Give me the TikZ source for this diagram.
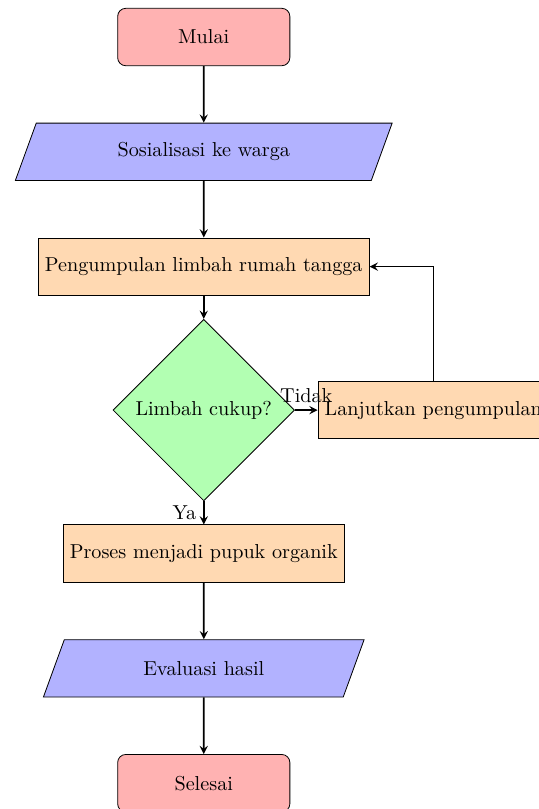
\documentclass[tikz,border=0pt]{standalone}
\usetikzlibrary{shapes.geometric}
\begin{document}
\begin{tikzpicture}[>=stealth,
    startstop/.style={rectangle, rounded corners, minimum width=3cm, minimum height=1cm, text centered, draw=black, fill=red!30},
    io/.style={trapezium, trapezium left angle=70, trapezium right angle=110, minimum width=3cm, minimum height=1cm, text centered, draw=black, fill=blue!30},
    process/.style={rectangle, minimum width=3cm, minimum height=1cm, text centered, draw=black, fill=orange!30},
    decision/.style={diamond, minimum width=3cm, minimum height=1cm, text centered, draw=black, fill=green!30},
    arrow/.style={thick, ->}]
    \useasboundingbox (-3.55, 0.645) rectangle (5.84, -13.45);
    \clip (-3.55, 0.645) rectangle (5.84, -13.45);

    \node[startstop] (mulai) at (0, 0) {Mulai};
    \node[io] (sosialisasi) at (0, -2) {Sosialisasi ke warga};
    \node[process] (kumpul) at (0, -4) {Pengumpulan limbah rumah tangga};
    \node[decision] (cukup) at (0, -6.5) {Limbah cukup?};
    \node[process] (lanjut) at (4, -6.5) {Lanjutkan pengumpulan};
    \node[process] (proses) at (0, -9) {Proses menjadi pupuk organik};
    \node[io] (evaluasi) at (0, -11) {Evaluasi hasil};
    \node[startstop] (selesai) at (0, -13) {Selesai};

    \draw[arrow] (mulai) -- (sosialisasi);
    \draw[arrow] (sosialisasi) -- (kumpul);
    \draw[arrow] (kumpul) -- (cukup);
    \draw[arrow] (cukup) -- node[anchor=east] {Ya} (proses);
    \draw[arrow] (cukup) -- node[anchor=south] {Tidak} (lanjut);
    \draw[arrow] (lanjut) |- (kumpul);
    \draw[arrow] (proses) -- (evaluasi);
    \draw[arrow] (evaluasi) -- (selesai);
\end{tikzpicture}
\end{document}
